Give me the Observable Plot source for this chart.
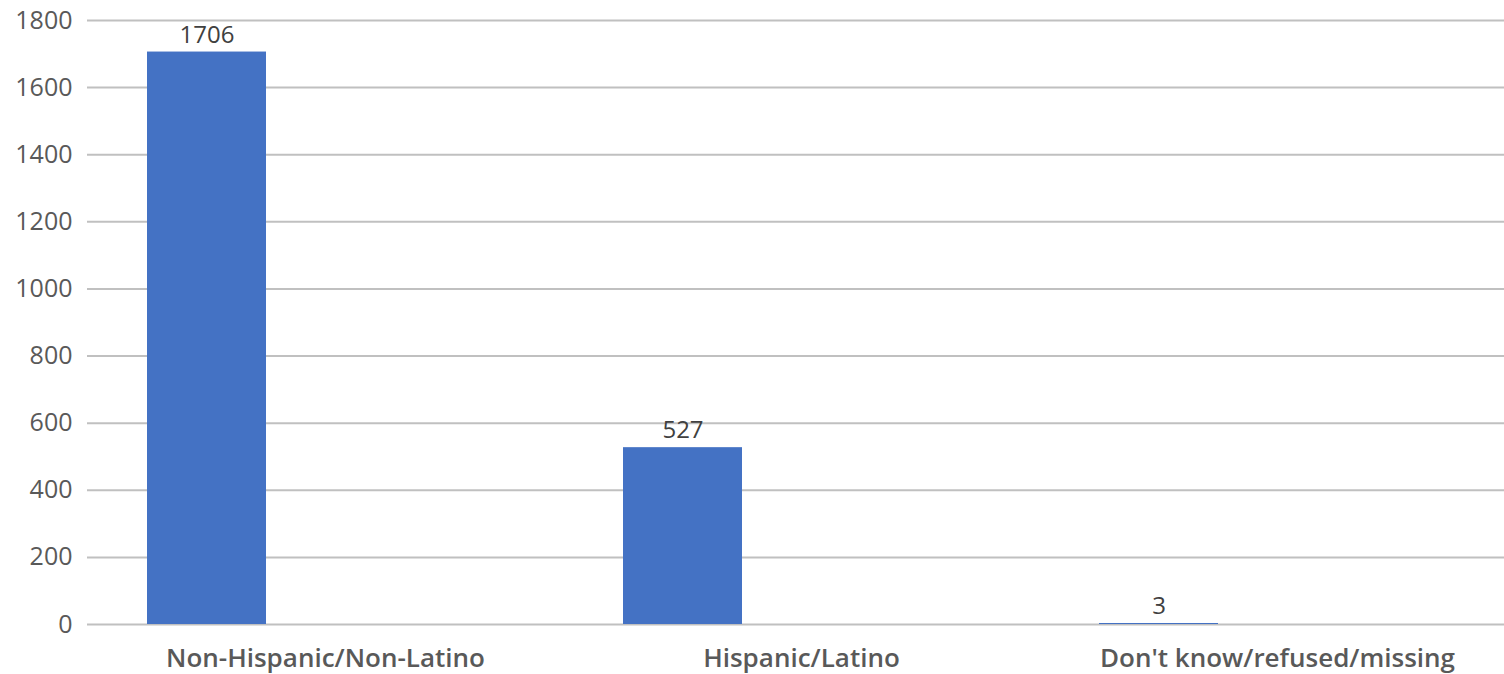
<!DOCTYPE html>
<html>
<head>
<meta charset="utf-8">
<script src="https://cdn.jsdelivr.net/npm/d3@7"></script>
<script src="https://cdn.jsdelivr.net/npm/@observablehq/plot@0.6"></script>
<style>
  html, body { margin: 0; padding: 0; background: #fff; overflow: hidden; }
  #chart svg { display: block; }
</style>
</head>
<body>
<div id="chart"></div>
<script>
const categories = ["Non-Hispanic/Non-Latino", "Hispanic/Latino", "Don't know/refused/missing"];
const series = ["Count", "s2", "s3"];
const values = [1706, 527, 3];
const yTicks = [0, 200, 400, 600, 800, 1000, 1200, 1400, 1600, 1800];

const data = categories.map((c, i) => ({category: c, series: series[0], value: values[i]}));

const chart = Plot.plot({
  width: 1504,
  height: 674,
  marginLeft: 87,
  marginRight: -11,
  marginTop: 20,
  marginBottom: 50,
  style: {fontFamily: "'Open Sans', 'Noto Sans', sans-serif", color: "#595959", background: "#fff"},
  fx: {domain: categories, padding: 0, label: null, axis: "bottom", tickSize: 0, tickPadding: 24},
  x: {domain: series, paddingInner: 0, paddingOuter: 0.5, axis: null},
  y: {domain: [0, 1800], ticks: yTicks, tickFormat: "d", label: null, tickSize: 0, tickPadding: 15},
  marks: [
    Plot.ruleY(yTicks, {stroke: "#c0c0c0", strokeWidth: 2}),
    Plot.barY(data, {fx: "category", x: "series", y: "value", fill: "#4472C4"}),
    Plot.text(data, {fx: "category", x: "series", y: "value", text: d => String(d.value), dy: -17, fontSize: 24, fill: "#404040"})
  ]
});

const yl = chart.querySelector('[aria-label="y-axis tick label"]');
if (yl) { yl.setAttribute("font-size", 25); yl.setAttribute("fill", "#595959"); }
const fxl = chart.querySelector('[aria-label="fx-axis tick label"]');
if (fxl) { fxl.setAttribute("font-size", 26); fxl.setAttribute("font-weight", "600"); fxl.setAttribute("fill", "#595959"); }

document.getElementById("chart").appendChild(chart);
</script>
</body>
</html>
